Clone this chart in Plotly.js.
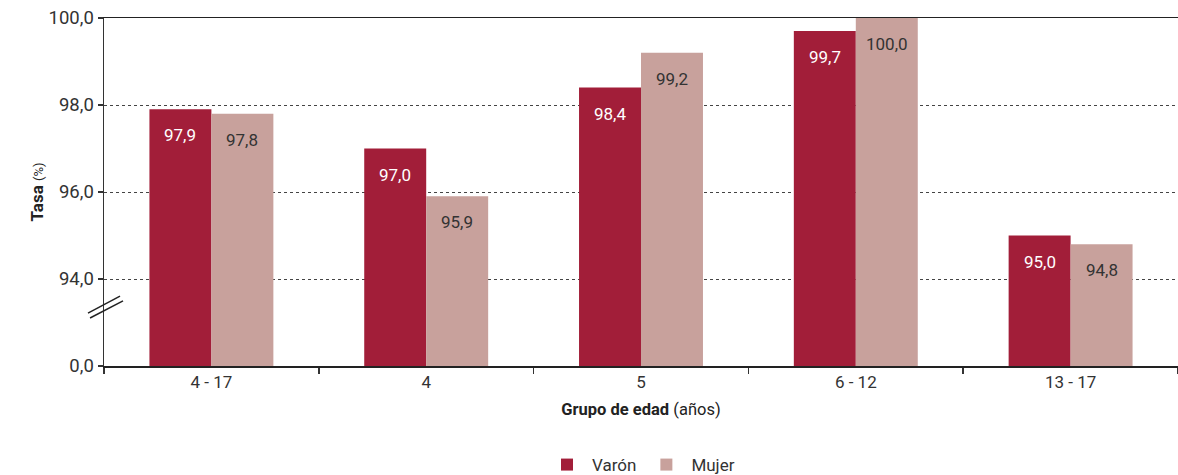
<!DOCTYPE html>
<html>
<head>
<meta charset="utf-8">
<script src="https://cdn.plot.ly/plotly-3.0.1.min.js"></script>
<style>html,body{margin:0;padding:0;background:#fff;}#chart{width:1178px;height:475px;}</style>
</head>
<body>
<div id="chart"></div>
<script>
const categories = ['4 - 17', '4', '5', '6 - 12', '13 - 17'];
const varon = [97.9, 97.0, 98.4, 99.7, 95.0];
const mujer = [97.8, 95.9, 99.2, 100.0, 94.8];
const seriesNames = ['Varón', 'Mujer'];
const tickVals = [92, 94, 96, 98, 100];
const tickText = ['0,0', '94,0', '96,0', '98,0', '100,0'];

const colVaron = '#A21E39';
const colMujer = '#C8A19C';
const fontFam = 'Roboto, "Noto Sans", sans-serif';

const fmt = v => v.toFixed(1).replace('.', ',');

const traces = [
  {type: 'bar', name: seriesNames[0], x: categories, y: varon, marker: {color: colVaron}, hoverinfo: 'none'},
  {type: 'bar', name: seriesNames[1], x: categories, y: mujer, marker: {color: colMujer}, hoverinfo: 'none'}
];

const annotations = [];
categories.forEach((c, i) => {
  annotations.push({x: i, y: varon[i], xref: 'x', yref: 'y', text: fmt(varon[i]), showarrow: false,
    xshift: -31, yshift: -26, yanchor: 'middle', font: {family: fontFam, size: 17, color: '#ffffff'}});
  annotations.push({x: i, y: mujer[i], xref: 'x', yref: 'y', text: fmt(mujer[i]), showarrow: false,
    xshift: 31, yshift: -26, yanchor: 'middle', font: {family: fontFam, size: 17, color: '#333333'}});
});

const layout = {
  width: 1178, height: 475,
  margin: {l: 104, r: 0, t: 18, b: 109},
  paper_bgcolor: '#fff', plot_bgcolor: '#fff',
  font: {family: fontFam, color: '#333'},
  barmode: 'group', bargap: 0.423, bargroupgap: 0,
  showlegend: true,
  legend: {orientation: 'h', x: 0.5, xanchor: 'center', yref: 'container', y: 0.021, yanchor: 'middle',
    font: {family: fontFam, size: 17, color: '#333'}, traceorder: 'normal', itemwidth: 40},
  xaxis: {
    type: 'category', range: [-0.5, 4.5], tickson: 'boundaries', ticks: 'outside', ticklen: 6, tickcolor: '#333', tickwidth: 1.5,
    showline: true, linecolor: '#222', linewidth: 1.5, mirror: true,
    tickfont: {family: fontFam, size: 17, color: '#333'},
    title: {text: '<b>Grupo de edad</b> (años)', font: {family: fontFam, size: 16.5, color: '#222'}, standoff: 12},
    showgrid: false, automargin: false
  },
  yaxis: {
    range: [92, 100], tickvals: tickVals, ticktext: tickText,
    ticks: 'outside', ticklen: 5, tickcolor: '#333', tickwidth: 1.5,
    showline: true, linecolor: '#333', linewidth: 1.5,
    tickfont: {family: fontFam, size: 18.5, color: '#333'},
    showgrid: true, gridcolor: '#444', griddash: 'dot', gridwidth: 1,
    zeroline: false, automargin: false,
    title: {text: '<b>Tasa</b> <span style="font-size:13px">(%)</span>', font: {family: fontFam, size: 17, color: '#222'}, standoff: 0}
  },
  annotations: annotations,
  shapes: [
    {type: 'line', xref: 'paper', yref: 'paper', x0: -0.0149, y0: 0.152, x1: 0.0149, y1: 0.201, line: {color: '#222', width: 1.5}},
    {type: 'line', xref: 'paper', yref: 'paper', x0: -0.0130, y0: 0.138, x1: 0.0177, y1: 0.187, line: {color: '#222', width: 1.5}}
  ]
};

Plotly.newPlot('chart', traces, layout, {displayModeBar: false, staticPlot: true});
</script>
</body>
</html>
